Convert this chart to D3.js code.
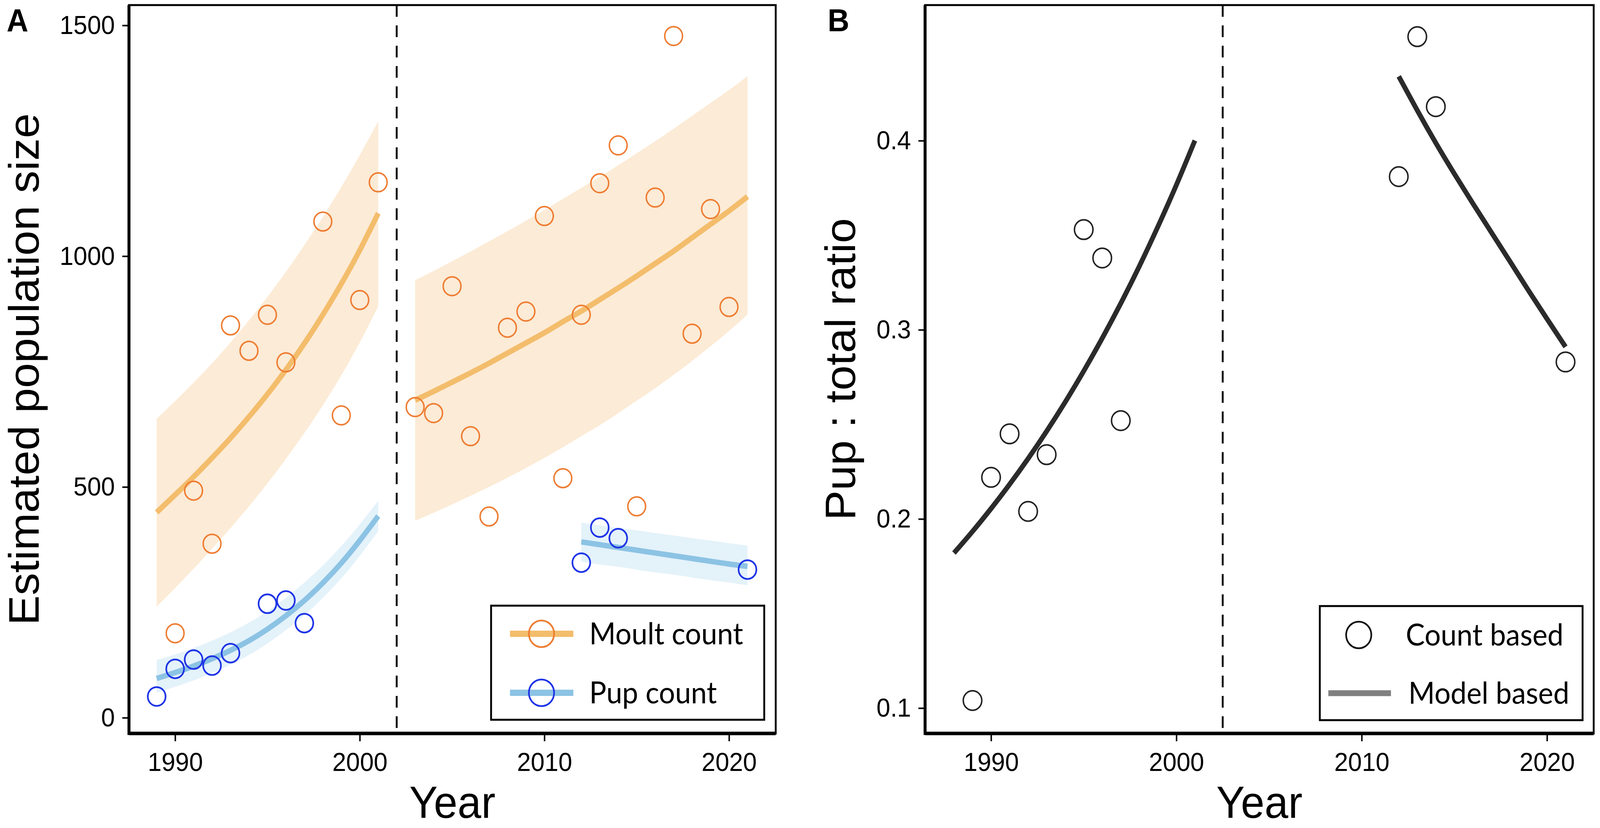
<!DOCTYPE html>
<html>
<head>
<meta charset="utf-8">
<script src="https://cdn.jsdelivr.net/npm/d3@7"></script>
<style>
  html, body { margin: 0; padding: 0; background: #fff; width: 100%; height: 100%; overflow: hidden; }
  #chart, svg { display: block; width: 100vw; height: 100vh; }
  .axis text { font-family: "Liberation Sans", Arial, sans-serif; font-size: 67px; fill: #000; }
  .axis path { display: none; }
  .axis line { stroke: #000; stroke-width: 4; }
  .title { font-family: "Liberation Sans", Arial, sans-serif; font-size: 115px; fill: #000; }
  .legend text { font-family: Lato, "Open Sans", sans-serif; font-size: 77px; fill: #000; }
</style>
</head>
<body>
<div id="chart"></div>
<script>
// ---- data ----
const xTicks = [1990, 2000, 2010, 2020];
const yTicksA = [0, 500, 1000, 1500];
const yTicksB = [0.1, 0.2, 0.3, 0.4];
const breakYearA = 2002;
const breakYearB = 2002.5;

const moultYears = [1990, 1991, 1992, 1993, 1994, 1995, 1996, 1998, 1999, 2000, 2001,
  2003, 2004, 2005, 2006, 2007, 2008, 2009, 2010, 2011, 2012, 2013, 2014, 2015, 2016, 2017, 2018, 2019, 2020];
const moultCounts = [183, 492, 377, 850, 795, 873, 770, 1075, 655, 905, 1160,
  673, 660, 935, 610, 436, 845, 880, 1087, 519, 873, 1158, 1240, 458, 1127, 1477, 832, 1102, 890];

const pupYears = [1989, 1990, 1991, 1992, 1993, 1995, 1996, 1997, 2012, 2013, 2014, 2021];
const pupCounts = [46, 106, 126, 113, 140, 247, 254, 205, 336, 412, 389, 321];

// model fits (line + band), first and second period
const fitYearsEarly = [1989, 1990, 1991, 1992, 1993, 1994, 1995, 1996, 1997, 1998, 1999, 2000, 2001];
const moultFitEarly = [445, 483, 522, 563, 606, 652, 701, 754, 811, 873, 940, 1013, 1093];
const moultLowEarly = [241, 281, 323, 366, 411, 458, 508, 561, 617, 677, 742, 813, 891];
const moultHighEarly = [648, 686, 726, 768, 813, 861, 912, 966, 1024, 1085, 1150, 1219, 1292];
const pupFitEarly = [85, 98, 112, 128, 146, 167, 192, 221, 254, 292, 335, 384, 437];
const pupLowEarly = [54, 67, 81, 97, 115, 136, 161, 190, 222, 260, 302, 351, 404];
const pupHighEarly = [125, 137, 151, 167, 185, 206, 231, 260, 293, 330, 372, 419, 470];

const fitYearsLate = [2003, 2004, 2005, 2006, 2007, 2008, 2009, 2010, 2011, 2012,
  2013, 2014, 2015, 2016, 2017, 2018, 2019, 2020, 2021];
const moultFitLate = [688, 707, 727, 747, 768, 790, 812, 834, 858, 881, 906, 931, 957, 984, 1011, 1040, 1069, 1098, 1129];
const moultLowLate = [427, 444, 462, 481, 500, 520, 541, 563, 586, 610, 634, 660, 687, 714, 743, 773, 805, 838, 873];
const moultHighLate = [948, 968, 989, 1010, 1032, 1054, 1077, 1100, 1124, 1148, 1172, 1197, 1223, 1249, 1276, 1304, 1332, 1360, 1390];

const pupFitYearsLate = [2012, 2013, 2014, 2015, 2016, 2017, 2018, 2019, 2020, 2021];
const pupFitLate = [381, 375, 369, 363, 357, 351, 345, 339, 333, 328];
const pupLowLate = [338, 332, 327, 321, 315, 310, 304, 298, 293, 287];
const pupHighLate = [423, 417, 411, 406, 400, 395, 389, 384, 378, 373];

const ratioYears = [1989, 1990, 1991, 1992, 1993, 1995, 1996, 1997, 2012, 2013, 2014, 2021];
const ratioValues = [0.104, 0.222, 0.245, 0.204, 0.234, 0.353, 0.338, 0.252, 0.381, 0.455, 0.418, 0.283];

const ratioFitYearsEarly = [1988, 1989, 1990, 1991, 1992, 1993, 1994, 1995, 1996, 1997, 1998, 1999, 2000, 2001];
const ratioFitEarly = [0.1820, 0.1934, 0.2055, 0.2183, 0.2319, 0.2464, 0.2618, 0.2782, 0.2956, 0.3140, 0.3336, 0.3545, 0.3766, 0.4001];
const ratioFitYearsLate = [2012, 2013, 2014, 2015, 2016, 2017, 2018, 2019, 2020, 2021];
const ratioFitLate = [0.4340, 0.4160, 0.3988, 0.3825, 0.3668, 0.3515, 0.3362, 0.3208, 0.3058, 0.2910];

// ---- colours ----
const orangePt = "#EE7D33", orangeLine = "#F3BD6C", orangeBand = "#FCEBD6";
const bluePt = "#1E34E6", blueLine = "#8CC3E4", blueBand = "#E4F2FA";
const darkLine = "#2B2B2B";

const W = 4317, H = 2119;
const svg = d3.select("#chart").append("svg")
  .attr("viewBox", `0 0 ${W} ${H}`)
  .attr("preserveAspectRatio", "none");
svg.append("rect").attr("width", W).attr("height", H).attr("fill", "#fff");

const zip = (xs, ys) => xs.map((x, i) => ({ x, y: ys[i] }));
const zipBand = (xs, lo, hi) => xs.map((x, i) => ({ x, lo: lo[i], hi: hi[i] }));

function frame(box, x, y, yTicks, yFormat, titleText, titleX, label, labelX, breakYear, clipId) {
  const g = svg.append("g");

  g.append("clipPath").attr("id", clipId)
    .append("rect").attr("x", box.left).attr("y", box.top)
    .attr("width", box.right - box.left).attr("height", box.bottom - box.top);

  const plot = g.append("g").attr("clip-path", `url(#${clipId})`);

  // dashed break line
  g.append("line")
    .attr("x1", x(breakYear)).attr("x2", x(breakYear))
    .attr("y1", box.top).attr("y2", box.bottom)
    .attr("stroke", "#000").attr("stroke-width", 5)
    .attr("stroke-dasharray", "30,22");

  // axes
  g.append("g").attr("class", "axis")
    .attr("transform", `translate(${box.left},0)`)
    .call(d3.axisLeft(y).tickValues(yTicks).tickFormat(yFormat).tickSize(18).tickPadding(20));

  g.append("g").attr("class", "axis")
    .attr("transform", `translate(0,${box.bottom})`)
    .call(d3.axisBottom(x).tickValues(xTicks).tickFormat(d3.format("d")).tickSize(20).tickPadding(28));

  // titles
  g.append("text").attr("class", "title")
    .attr("x", (box.left + box.right) / 2).attr("y", 2093)
    .attr("text-anchor", "middle").text("Year");

  g.append("text").attr("class", "title")
    .attr("transform", `translate(${titleX},${(box.top + box.bottom) / 2}) rotate(-90)`)
    .attr("text-anchor", "middle").text(titleText);

  g.append("text")
    .attr("x", labelX).attr("y", 80)
    .attr("font-family", "Liberation Sans, Arial, sans-serif")
    .attr("font-weight", "bold").attr("font-size", 81)
    .text(label);

  return { g, plot };
}

function border(g, box) {
  g.append("rect")
    .attr("x", box.left).attr("y", box.top)
    .attr("width", box.right - box.left).attr("height", box.bottom - box.top)
    .attr("fill", "none").attr("stroke", "#000").attr("stroke-width", 5);
  g.append("line").attr("x1", box.left).attr("x2", box.left)
    .attr("y1", box.top).attr("y2", box.bottom + 4)
    .attr("stroke", "#000").attr("stroke-width", 8);
  g.append("line").attr("x1", box.left).attr("x2", box.right)
    .attr("y1", box.bottom).attr("y2", box.bottom)
    .attr("stroke", "#000").attr("stroke-width", 9);
}

// ================= Panel A =================
const boxA = { left: 348, right: 2093, top: 13, bottom: 1877 };
const xA = d3.scaleLinear().domain([1987.5, 2022.53]).range([boxA.left, boxA.right]);
const yA = d3.scaleLinear().domain([-34, 1544]).range([boxA.bottom, boxA.top]);

const A = frame(boxA, xA, yA, yTicksA, d3.format("d"), "Estimated population size", 104, "A", 18, breakYearA, "clipA");

const areaA = d3.area().x(d => xA(d.x)).y0(d => yA(d.lo)).y1(d => yA(d.hi)).curve(d3.curveNatural);
const lineA = d3.line().x(d => xA(d.x)).y(d => yA(d.y)).curve(d3.curveNatural);

[zipBand(fitYearsEarly, moultLowEarly, moultHighEarly), zipBand(fitYearsLate, moultLowLate, moultHighLate)]
  .forEach(b => A.plot.append("path").attr("d", areaA(b)).attr("fill", orangeBand));
[zipBand(fitYearsEarly, pupLowEarly, pupHighEarly), zipBand(pupFitYearsLate, pupLowLate, pupHighLate)]
  .forEach(b => A.plot.append("path").attr("d", areaA(b)).attr("fill", blueBand));

[zip(fitYearsEarly, moultFitEarly), zip(fitYearsLate, moultFitLate)]
  .forEach(l => A.plot.append("path").attr("d", lineA(l)).attr("fill", "none")
    .attr("stroke", orangeLine).attr("stroke-width", 14));
[zip(fitYearsEarly, pupFitEarly), zip(pupFitYearsLate, pupFitLate)]
  .forEach(l => A.plot.append("path").attr("d", lineA(l)).attr("fill", "none")
    .attr("stroke", blueLine).attr("stroke-width", 14));

A.plot.append("g").selectAll("circle")
  .data(zip(moultYears, moultCounts))
  .join("circle")
  .attr("cx", d => xA(d.x)).attr("cy", d => yA(d.y)).attr("r", 24)
  .attr("fill", "none").attr("stroke", orangePt).attr("stroke-width", 4);

A.plot.append("g").selectAll("circle")
  .data(zip(pupYears, pupCounts))
  .join("circle")
  .attr("cx", d => xA(d.x)).attr("cy", d => yA(d.y)).attr("r", 24)
  .attr("fill", "none").attr("stroke", bluePt).attr("stroke-width", 4.5);

border(A.g, boxA);

// legend A
const legA = A.g.append("g").attr("class", "legend");
legA.append("rect").attr("x", 1325).attr("y", 1550).attr("width", 737).attr("height", 292)
  .attr("fill", "#fff").attr("stroke", "#000").attr("stroke-width", 5);
[
  { label: "Moult count", line: orangeLine, pt: orangePt, cy: 1622 },
  { label: "Pup count", line: blueLine, pt: bluePt, cy: 1773 }
].forEach(e => {
  legA.append("line").attr("x1", 1376).attr("x2", 1547).attr("y1", e.cy).attr("y2", e.cy)
    .attr("stroke", e.line).attr("stroke-width", 16);
  legA.append("circle").attr("cx", 1461).attr("cy", e.cy).attr("r", 34)
    .attr("fill", "none").attr("stroke", e.pt).attr("stroke-width", 4.5);
  legA.append("text").attr("x", 1590).attr("y", e.cy).attr("dy", "0.35em").text(e.label);
});

// ================= Panel B =================
const boxB = { left: 2496, right: 4300, top: 13, bottom: 1877 };
const xB = d3.scaleLinear().domain([1986.44, 2022.52]).range([boxB.left, boxB.right]);
const yB = d3.scaleLinear().domain([0.0866, 0.4717]).range([boxB.bottom, boxB.top]);

const B = frame(boxB, xB, yB, yTicksB, d3.format(".1f"), "Pup : total ratio", 2307, "B", 2233, breakYearB, "clipB");

const lineB = d3.line().x(d => xB(d.x)).y(d => yB(d.y)).curve(d3.curveNatural);
[zip(ratioFitYearsEarly, ratioFitEarly), zip(ratioFitYearsLate, ratioFitLate)]
  .forEach(l => B.plot.append("path").attr("d", lineB(l)).attr("fill", "none")
    .attr("stroke", darkLine).attr("stroke-width", 13));

B.plot.append("g").selectAll("circle")
  .data(zip(ratioYears, ratioValues))
  .join("circle")
  .attr("cx", d => xB(d.x)).attr("cy", d => yB(d.y)).attr("r", 25)
  .attr("fill", "none").attr("stroke", "#222").attr("stroke-width", 4);

border(B.g, boxB);

// legend B
const legB = B.g.append("g").attr("class", "legend");
legB.append("rect").attr("x", 3561).attr("y", 1551).attr("width", 709).attr("height", 292)
  .attr("fill", "#fff").attr("stroke", "#000").attr("stroke-width", 5);
legB.append("circle").attr("cx", 3666).attr("cy", 1625).attr("r", 34)
  .attr("fill", "none").attr("stroke", "#111").attr("stroke-width", 4.5);
legB.append("text").attr("x", 3793).attr("y", 1625).attr("dy", "0.35em").text("Count based");
legB.append("line").attr("x1", 3584).attr("x2", 3753).attr("y1", 1774).attr("y2", 1774)
  .attr("stroke", "#808080").attr("stroke-width", 15);
legB.append("text").attr("x", 3800).attr("y", 1774).attr("dy", "0.35em").text("Model based");
</script>
</body>
</html>
